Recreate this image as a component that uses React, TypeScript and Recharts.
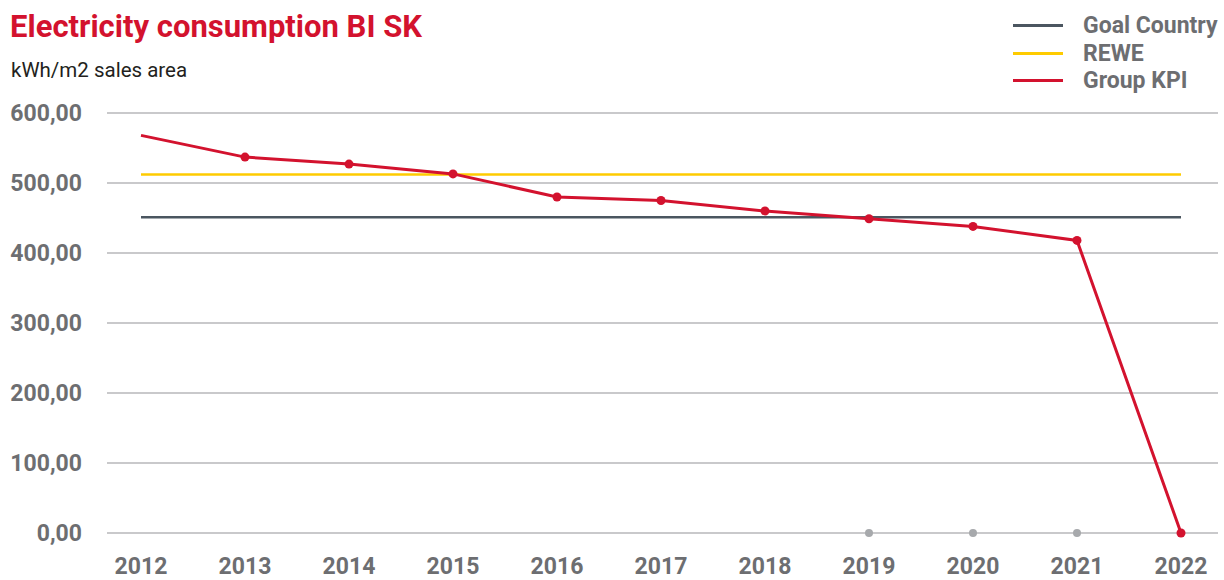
import React from 'react';
import { LineChart, Line, XAxis, YAxis, CartesianGrid } from 'recharts';

const years = ['2012', '2013', '2014', '2015', '2016', '2017', '2018', '2019', '2020', '2021', '2022'];
const groupKpi = [568, 537, 527, 513, 480, 475, 460, 449, 438, 418, 0];
const rewe = [512, 512, 512, 512, 512, 512, 512, 512, 512, 512, 512];
const goalCountry = [451, 451, 451, 451, 451, 451, 451, 451, 451, 451, 451];
const zeroMarks = [null, null, null, null, null, null, null, 0, 0, 0, null];
const yTicks = [0, 100, 200, 300, 400, 500, 600];

const RED = '#d3122e';
const YELLOW = '#fecb00';
const SLATE = '#4b5660';
const GREY_TEXT = '#6d6e71';
const FONT = 'Roboto, "Noto Sans", sans-serif';

const data = years.map((year, i) => ({
  year,
  groupKpi: groupKpi[i],
  rewe: rewe[i],
  goalCountry: goalCountry[i],
  zero: zeroMarks[i],
}));

const legendItems = [
  { label: 'Goal Country', color: SLATE },
  { label: 'REWE', color: YELLOW },
  { label: 'Group KPI', color: RED },
];

const formatNum = (v: number) => v.toFixed(2).replace('.', ',');

// first point of the KPI line has no marker in the original
const KpiDot = (props: any) => {
  const { cx, cy, index } = props;
  if (index === 0 || cx == null || cy == null) return <g key={`d${index}`} />;
  return <circle key={`d${index}`} cx={cx} cy={cy} r={4.5} fill={RED} />;
};

const App: React.FC = () => {
  return (
    <div style={{ position: 'absolute', left: 0, top: 0, width: 1224, height: 580, background: '#fff', fontFamily: FONT }}>
      <div style={{ position: 'absolute', left: 10, top: 11, fontSize: 31, lineHeight: '31px', fontWeight: 700, color: RED, whiteSpace: 'nowrap' }}>
        Electricity consumption BI SK
      </div>
      <div style={{ position: 'absolute', left: 11, top: 60, fontSize: 20.5, lineHeight: '20px', color: '#231f20', whiteSpace: 'nowrap' }}>
        kWh/m2 sales area
      </div>
      <div style={{ position: 'absolute', left: 1013, top: 12 }}>
        {legendItems.map((item) => (
          <div key={item.label} style={{ display: 'flex', alignItems: 'center', height: 27.5 }}>
            <div style={{ width: 50, height: 3, background: item.color, marginRight: 20 }} />
            <span style={{ fontSize: 23, fontWeight: 700, color: GREY_TEXT, whiteSpace: 'nowrap' }}>{item.label}</span>
          </div>
        ))}
      </div>
      <div style={{ position: 'absolute', left: 0, top: 0 }}>
        <LineChart width={1224} height={580} data={data} margin={{ top: 113, right: 6, bottom: 0, left: 0 }}>
          <CartesianGrid vertical={false} stroke="#c9c9cb" strokeWidth={2} />
          <XAxis
            dataKey="year"
            axisLine={false}
            tickLine={false}
            height={47}
            tickMargin={19}
            padding={{ left: 34, right: 37 }}
            interval={0}
            tick={{ fill: GREY_TEXT, fontSize: 23, fontWeight: 700, fontFamily: FONT }}
          />
          <YAxis
            domain={[0, 600]}
            ticks={yTicks}
            axisLine={false}
            tickLine={false}
            width={107}
            tickMargin={19}
            tickFormatter={formatNum}
            tick={{ fill: GREY_TEXT, fontSize: 23, fontWeight: 700, fontFamily: FONT }}
          />
          <Line dataKey="goalCountry" stroke={SLATE} strokeWidth={2.5} dot={false} isAnimationActive={false} />
          <Line dataKey="rewe" stroke={YELLOW} strokeWidth={2.5} dot={false} isAnimationActive={false} />
          <Line dataKey="zero" stroke="none" dot={{ r: 4, fill: '#a7a9ac', stroke: 'none' }} isAnimationActive={false} />
          <Line dataKey="groupKpi" stroke={RED} strokeWidth={3} dot={KpiDot} isAnimationActive={false} />
        </LineChart>
      </div>
    </div>
  );
};

export default App;
